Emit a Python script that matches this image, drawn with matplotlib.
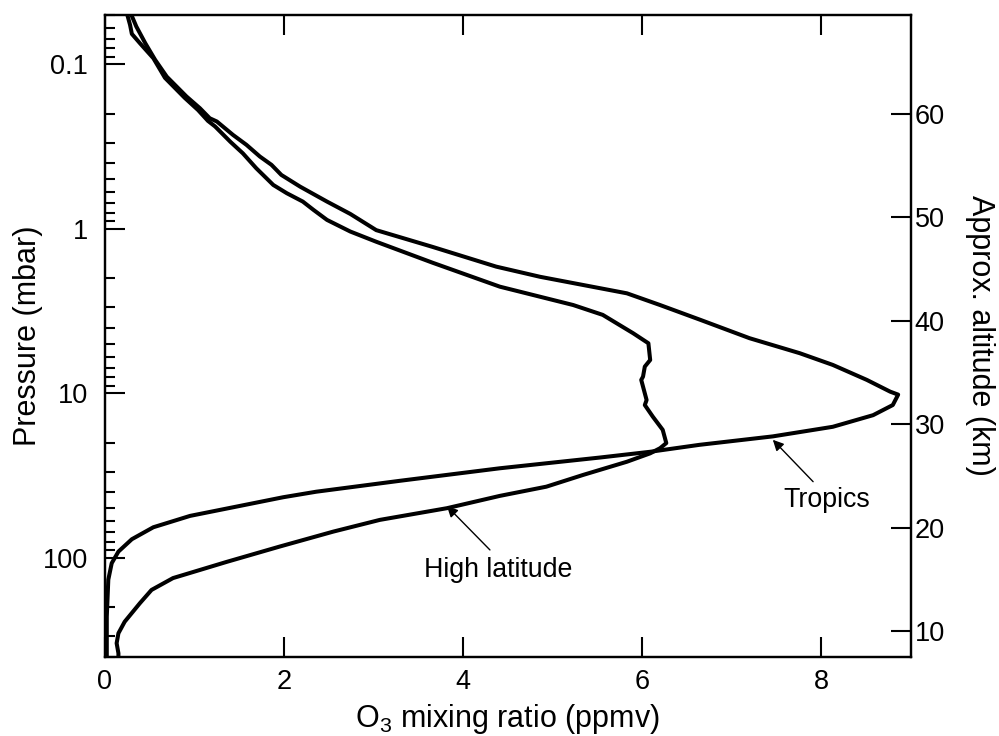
#!/usr/bin/env python3
"""Perfiles verticales de ozono: trópicos frente a latitudes altas."""
import matplotlib
matplotlib.use("Agg")
import matplotlib.pyplot as plt
import numpy as np

plt.rcParams["font.family"] = ["Liberation Sans", "DejaVu Sans"]
plt.rcParams["mathtext.fontset"] = "custom"
plt.rcParams["mathtext.rm"] = "Liberation Sans"
plt.rcParams["mathtext.default"] = "regular"

# Perfil de los trópicos: razón de mezcla O3 (ppmv) y presión (mbar)
TROP_O3 = [0.28, 0.35, 0.45, 0.56, 0.69, 0.91, 1.06, 1.17, 1.25, 1.43, 1.58,
           1.73, 1.86, 1.97, 2.18, 2.48, 2.74, 3.03, 3.66, 4.37, 4.86, 5.83,
           6.20, 6.65, 7.20, 7.76, 8.13, 8.51, 8.77, 8.86, 8.80, 8.58, 8.13,
           7.46, 6.64, 6.09, 5.53, 4.41, 3.29, 2.36, 1.99, 1.51, 0.95, 0.54,
           0.30, 0.15, 0.075, 0.037, 0.02, 0.02]
TROP_P = [0.048, 0.059, 0.0745, 0.094, 0.119, 0.157, 0.185, 0.213, 0.223,
          0.269, 0.309, 0.364, 0.409, 0.471, 0.555, 0.684, 0.813, 1.02, 1.29,
          1.70, 1.96, 2.47, 2.91, 3.58, 4.63, 5.71, 6.73, 8.30, 9.78, 10.2,
          11.8, 13.6, 16.0, 18.3, 20.6, 22.7, 24.6, 28.6, 34.1, 39.7, 42.9,
          48.4, 55.7, 65.3, 77.2, 91.8, 108, 136, 228, 410]

# Perfil de latitudes altas
HL_O3 = [0.24, 0.28, 0.30, 0.39, 0.54, 0.67, 0.89, 1.04, 1.15, 1.23, 1.40,
         1.54, 1.69, 1.88, 2.03, 2.21, 2.33, 2.48, 2.74, 3.03, 3.66, 4.41,
         5.23, 5.56, 5.90, 6.07, 6.09, 6.03, 6.01, 5.99, 6.05, 6.03, 6.12,
         6.23, 6.27, 6.20, 6.09, 5.83, 5.34, 4.93, 4.41, 3.82, 3.07, 2.55,
         1.95, 1.36, 0.76, 0.52, 0.39, 0.22, 0.15, 0.13, 0.15, 0.15]
HL_P = [0.048, 0.0577, 0.0654, 0.0745, 0.0919, 0.121, 0.160, 0.190, 0.221,
        0.239, 0.296, 0.348, 0.429, 0.542, 0.608, 0.684, 0.769, 0.884, 1.04,
        1.20, 1.61, 2.25, 2.91, 3.34, 4.32, 4.97, 6.28, 6.89, 7.93, 8.30,
        11.0, 11.8, 13.9, 16.7, 20.1, 21.6, 23.2, 26.1, 31.4, 37.0, 42.1,
        50.0, 58.9, 69.4, 85.6, 106, 133, 157, 189, 245, 288, 331, 381, 410]

X_TICKS = [0, 2, 4, 6, 8]
P_TICKS = [0.1, 1, 10, 100]
P_LABELS = ["0.1", "1", "10", "100"]
Z_TICKS = [10, 20, 30, 40, 50, 60]

XLIM = (0, 9.0)
PLIM = (400, 0.05)

# altitud aproximada z = Z0 - DZ*log10(p)
Z0, DZ = 48.88, 15.88

LW = 2.9
FS_TICK = 19.5
FS_LABEL = 22
FS_NOTE = 19.3

fig = plt.figure(figsize=(9.99, 7.36), dpi=100)
ax = fig.add_axes([0.1051, 0.1077, 0.8065, 0.8723])

ax.plot(TROP_O3, TROP_P, color="black", lw=LW, solid_joinstyle="round")
ax.plot(HL_O3, HL_P, color="black", lw=LW, solid_joinstyle="round")

ax.set_yscale("log")
ax.set_xlim(*XLIM)
ax.set_ylim(*PLIM)
ax.set_xticks(X_TICKS)
ax.set_xticklabels([str(t) for t in X_TICKS])
ax.set_yticks(P_TICKS)
ax.set_yticklabels(P_LABELS)
ax.yaxis.set_minor_locator(matplotlib.ticker.LogLocator(base=10, subs=np.arange(2, 10)))
ax.yaxis.set_minor_formatter(matplotlib.ticker.NullFormatter())

ax.tick_params(which="both", direction="in", width=1.5, colors="black",
               top=True, right=False, labelsize=FS_TICK)
ax.tick_params(which="major", length=14.4)
ax.tick_params(which="minor", length=7.2)
ax.tick_params(axis="x", pad=9)
ax.tick_params(axis="y", pad=12)
for s in ax.spines.values():
    s.set_linewidth(1.6)

ax.set_xlabel(r"O$_3$ mixing ratio (ppmv)", fontsize=FS_LABEL)
ax.set_ylabel("Pressure (mbar)", fontsize=FS_LABEL)
ax.xaxis.set_label_coords(0.5, -0.071)
ax.yaxis.set_label_coords(-0.077, 0.5)

# eje derecho de altitud
ax2 = ax.twinx()
ax2.set_ylim(Z0 - DZ * np.log10(PLIM[0]), Z0 - DZ * np.log10(PLIM[1]))
ax2.set_yticks(Z_TICKS)
ax2.tick_params(direction="in", length=14.4, width=1.5, labelsize=FS_TICK, pad=3)
ax2.set_ylabel("Approx. altitude (km)", fontsize=FS_LABEL, rotation=270, va="bottom")
ax2.yaxis.set_label_coords(1.067, 0.5)
for s in ax2.spines.values():
    s.set_linewidth(1.6)

# anotaciones
arrow = dict(arrowstyle="-|>", color="black", lw=1, mutation_scale=16,
             shrinkA=0, shrinkB=0)
ax.annotate("", xy=(3.82, 48.6), xytext=(4.30, 89.7), arrowprops=arrow)
ax.text(4.39, 118.6, "High latitude", fontsize=FS_NOTE, ha="center", va="center")
ax.annotate("", xy=(7.46, 19.2), xytext=(7.91, 34.5), arrowprops=arrow)
ax.text(8.06, 44.6, "Tropics", fontsize=FS_NOTE, ha="center", va="center")

fig.savefig("out.png", dpi=100)
